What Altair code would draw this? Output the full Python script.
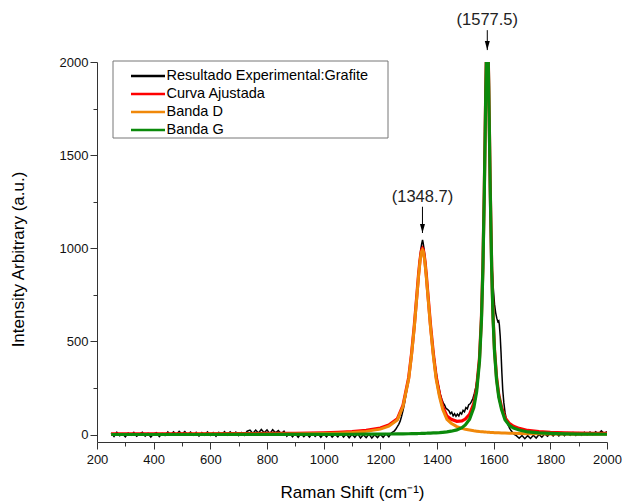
import altair as alt
import pandas as pd

# ---------------- data ----------------
series_names = ["Resultado Experimental:Grafite", "Curva Ajustada", "Banda D", "\u00a0Banda G"]
series_colors = ["#000000", "#ff0000", "#f0880a", "#0b8a0b"]

# fitted curves (Raman shift, cm-1)
fit_x = [250, 400, 550, 700, 800, 900, 1000, 1050, 1100, 1150,
         1200, 1230, 1260, 1280, 1300, 1310, 1320, 1330, 1335, 1340,
         1345, 1348.7, 1352, 1357, 1362, 1367, 1377, 1387, 1397, 1409,
         1420, 1435, 1450, 1470, 1488, 1500, 1515, 1530, 1540, 1550,
         1557, 1562, 1567, 1570, 1572.5, 1575, 1577.5, 1580, 1582.5, 1585,
         1588, 1593, 1598, 1603, 1610, 1618, 1628, 1640, 1655, 1670,
         1690, 1720, 1760, 1800, 1850, 1900, 1950, 2000]

banda_d = [0.6, 0.7, 1.0, 1.6, 2.2, 3.3, 5.5, 7.4, 10.7, 17,
           29, 45, 78, 150, 298, 424, 578, 760, 852, 929,
           980, 990, 981, 929, 852, 760, 578, 424, 298, 202,
           136, 82, 61, 43, 33, 28, 24, 20, 18, 16,
           15, 14.5, 14, 13.5, 13.3, 13, 12.6, 12.4, 12.1, 11.8,
           11.5, 11.1, 10.6, 10.2, 9.7, 9.2, 8.6, 7.9, 7.1, 6.5,
           5.8, 4.9, 4.0, 3.3, 2.7, 2.2, 1.9, 1.6]

banda_g = [0.2, 0.25, 0.35, 0.5, 0.6, 0.8, 1.1, 1.3, 1.6, 2.0,
           2.5, 2.9, 3.4, 3.8, 4.3, 4.6, 4.9, 5.3, 5.5, 5.7,
           5.9, 6.1, 6.3, 6.6, 6.9, 7.2, 7.8, 8.5, 9.5, 10.5,
           12, 14, 18, 25, 37, 52, 82, 145, 231, 393,
           617, 888, 1301, 1613, 1873, 2073, 2150, 2073, 1873, 1613,
           1301, 888, 617, 444, 297, 201, 134, 80, 50, 35,
           24, 14, 8.7, 5.9, 3.9, 2.8, 2.1, 1.6]

curva_ajustada = [3.8, 4.0, 4.4, 5.1, 5.8, 7.1, 9.6, 11.7, 15.3, 22,
                  34.5, 51, 84, 157, 305, 432, 586, 768, 861, 938,
                  989, 999, 990, 939, 862, 770, 589, 436, 311, 216,
                  151, 99, 82, 71, 73, 83, 109, 168, 252, 412,
                  635, 906, 1318, 1630, 1889, 2089, 2166, 2088, 1888, 1628,
                  1316, 902, 631, 457, 310, 213, 146, 91, 60, 44.5,
                  33, 22, 15.7, 12.2, 9.6, 8, 7, 6.2]

# experimental spectrum
exp_x_base = list(range(250, 1251, 10))
exp_y_base = [9, -10, 12, -6, 4, -12, 8, -4, 11, -9,
              2, 12, -8, 6, -13, 4, 10, -11, 6, -5,
              14, -2, 15, 0, 17, 2, 16, -1, 13, -3,
              12, -8, 11, -3, 14, -5, 10, -9, 12, -1,
              16, -3, 14, 0, 13, -6, 11, -4, 18, 24,
              6, 24, 8, 27, 10, 25, 5, 26, 9, 22,
              4, 18, -9, 8, -12, 5, -14, 6, -11, 3,
              -13, 8, -10, 5, -15, 4, -12, 7, -14, 2,
              -12, 8, -14, 3, -17, 2, -15, 5, -18, -1,
              -17, 3, -19, -1, -16, 2, -15, 4, -12, 10,
              20]
exp_x_peaks = [1255, 1260, 1265, 1270, 1275, 1280, 1285, 1290, 1295, 1300,
               1305, 1310, 1315, 1320, 1325, 1330, 1335, 1340, 1343, 1346,
               1349, 1351, 1354, 1357, 1360, 1363, 1367, 1372, 1377, 1382,
               1387, 1392, 1397, 1402, 1407, 1412, 1417, 1422, 1427, 1432,
               1437, 1442, 1447, 1452, 1457, 1462, 1467, 1472, 1477, 1482,
               1487, 1492, 1497, 1502, 1507, 1512, 1517, 1522, 1527, 1532,
               1537, 1541, 1545, 1549, 1553, 1557, 1561, 1565, 1568, 1571,
               1574, 1577, 1580, 1583, 1586, 1589, 1592, 1595, 1599, 1603,
               1607, 1611, 1615, 1618, 1620, 1623, 1626, 1629, 1632, 1636,
               1640, 1645, 1650, 1656, 1662, 1668, 1674, 1680]
exp_y_peaks = [30, 42, 55, 72, 98, 128, 165, 210, 255, 300,
               365, 430, 505, 590, 690, 780, 875, 955, 995, 1025,
               1045, 1030, 1000, 960, 915, 860, 785, 690, 605, 525,
               455, 390, 335, 285, 250, 215, 190, 170, 158, 140,
               135, 128, 112, 120, 100, 112, 98, 110, 100, 118,
               110, 130, 122, 145, 138, 160, 165, 178, 195, 222,
               255, 295, 345, 410, 500, 640, 850, 1150, 1480, 1800,
               2050, 2150, 2080, 1880, 1580, 1260, 1020, 880, 780, 700,
               655, 625, 605, 610, 590, 530, 440, 330, 240, 170,
               120, 80, 55, 35, 20, 8, 0, -6]
exp_x_tail = list(range(1690, 2001, 10))
exp_y_tail = [-20, -5, -22, -6, -21, -4, -19, 0, -14, 3,
              -9, 7, -8, 8, -7, 9, -6, 10, -4, 11,
              -5, 10, -3, 12, -2, 13, -1, 15, 3, 20,
              6, 16]

# peak annotations
ann_x = [1348.7, 1577.5]
ann_text = ["(1348.7)", "(1577.5)"]
ann_tip = [1082, 2064]
ann_top = [1223, 2171]

x_major = [200, 400, 600, 800, 1000, 1200, 1400, 1600, 1800, 2000]
x_minor = [300, 500, 700, 900, 1100, 1300, 1500, 1700, 1900]
y_major = [0, 500, 1000, 1500, 2000]
y_minor = [250, 750, 1250, 1750]

# ---------------- frames ----------------
exp_df = pd.DataFrame({
    "x": exp_x_base + exp_x_peaks + exp_x_tail,
    "y": exp_y_base + exp_y_peaks + exp_y_tail,
})
exp_df["serie"] = series_names[0]

def fit_frame(vals, name):
    d = pd.DataFrame({"x": fit_x, "y": vals})
    d["serie"] = name
    return d

red_df = fit_frame(curva_ajustada, series_names[1])
d_df = fit_frame(banda_d, series_names[2])
g_df = fit_frame(banda_g, series_names[3])
ann_df = pd.DataFrame({"x": ann_x, "tip": ann_tip, "top": ann_top, "label": ann_text})

FONT = "Liberation Sans"
AX = "#333333"

xscale = alt.Scale(domain=[200, 2000], nice=False, zero=False)
yscale = alt.Scale(domain=[-40, 2000], nice=False, zero=False)

legend = alt.Legend(
    title=None, orient="none", legendX=16, legendY=-1,
    symbolType="M-2,0H2", symbolSize=289, symbolStrokeWidth=2.5,
    labelFont=FONT, labelFontSize=14.5, labelColor="#000000", labelLimit=400,
    labelOffset=8.5, symbolOffset=20, padding=5, rowPadding=1,
    strokeColor="transparent",
)
color = alt.Color("serie:N", scale=alt.Scale(domain=series_names, range=series_colors), legend=legend)

x_axis_major = alt.Axis(orient="bottom", values=x_major, title="Raman Shift (cm\u207b\u00b9)",
                        tickSize=7, labelPadding=4, labelFontSize=13, labelFont=FONT,
                        titleFont=FONT, titleFontSize=17, titleFontWeight="normal",
                        titleBaseline="middle", titleY=50, titleColor="#000000",
                        labelColor="#111111", domainColor=AX, tickColor=AX, grid=False,
                        labelFlush=False, format="d")
y_axis_major = alt.Axis(orient="left", values=y_major, title="Intensity Arbitrary (a.u.)",
                        tickSize=7, labelPadding=2, labelFontSize=13, labelFont=FONT,
                        titleFont=FONT, titleFontSize=17, titleFontWeight="normal",
                        titleBaseline="middle", titleX=-79, titleY=197, titleColor="#000000",
                        labelColor="#111111", domainColor=AX, tickColor=AX, grid=False,
                        format="d")
x_axis_minor = alt.Axis(orient="bottom", values=x_minor, labels=False, title=None, tickSize=4,
                        domain=False, grid=False, tickColor=AX)
y_axis_minor = alt.Axis(orient="left", values=y_minor, labels=False, title=None, tickSize=4,
                        domain=False, grid=False, tickColor=AX)

# legend frame (decoration, in pixels of the plot area)
legend_box = alt.Chart(pd.DataFrame({"k": [0]})).mark_rect(
    fill="#ffffff", fillOpacity=0, stroke="#777777", strokeWidth=1
).encode(
    x=alt.value(16), x2=alt.value(291), y=alt.value(-1), y2=alt.value(76)
)

exp_layer = alt.Chart(exp_df).mark_line(strokeWidth=1.5, clip=True).encode(
    x=alt.X("x:Q", scale=xscale, axis=x_axis_major),
    y=alt.Y("y:Q", scale=yscale, axis=y_axis_major),
    color=color, order=alt.Order("x:Q"),
)
red_layer = alt.Chart(red_df).mark_line(strokeWidth=3.2, clip=True).encode(
    x=alt.X("x:Q", scale=xscale, axis=x_axis_minor),
    y=alt.Y("y:Q", scale=yscale, axis=y_axis_minor),
    color=color, order=alt.Order("x:Q"),
)
d_layer = alt.Chart(d_df).mark_line(strokeWidth=3.0, clip=True).encode(
    x=alt.X("x:Q", scale=xscale, axis=None),
    y=alt.Y("y:Q", scale=yscale, axis=None),
    color=color, order=alt.Order("x:Q"),
)
g_layer = alt.Chart(g_df).mark_line(strokeWidth=3.2, clip=True).encode(
    x=alt.X("x:Q", scale=xscale, axis=None),
    y=alt.Y("y:Q", scale=yscale, axis=None),
    color=color, order=alt.Order("x:Q"),
)

ann_base = alt.Chart(ann_df)
ann_rule = ann_base.mark_rule(color="#000000", strokeWidth=1).encode(
    x=alt.X("x:Q", scale=xscale, axis=None),
    y=alt.Y("tip:Q", scale=yscale, axis=None),
    y2="top:Q",
)
ann_head = ann_base.mark_point(shape="M-1,-3.6L1,-3.6L0,0Z", size=25, filled=True,
                               color="#000000", opacity=1).encode(
    x=alt.X("x:Q", scale=xscale, axis=None),
    y=alt.Y("tip:Q", scale=yscale, axis=None),
)
ann_text_layer = ann_base.mark_text(baseline="bottom", align="center", dy=-2, fontSize=16.5,
                                    font=FONT, color="#222222").encode(
    x=alt.X("x:Q", scale=xscale, axis=None),
    y=alt.Y("top:Q", scale=yscale, axis=None),
    text="label:N",
)

chart = alt.layer(exp_layer, red_layer, d_layer, g_layer, ann_rule, ann_head, ann_text_layer,
                  legend_box).resolve_axis(
    x="independent", y="independent"
).properties(
    width=510, height=380,
    padding={"left": 97, "top": 62, "right": 17, "bottom": 60},
    autosize=alt.AutoSizeParams(type="none"),
).configure(
    font=FONT,
    view=alt.ViewConfig(stroke="#ffffff", strokeOpacity=0, strokeWidth=1),
)

chart.save("out.html", embed_options={"renderer": "svg", "actions": False})
